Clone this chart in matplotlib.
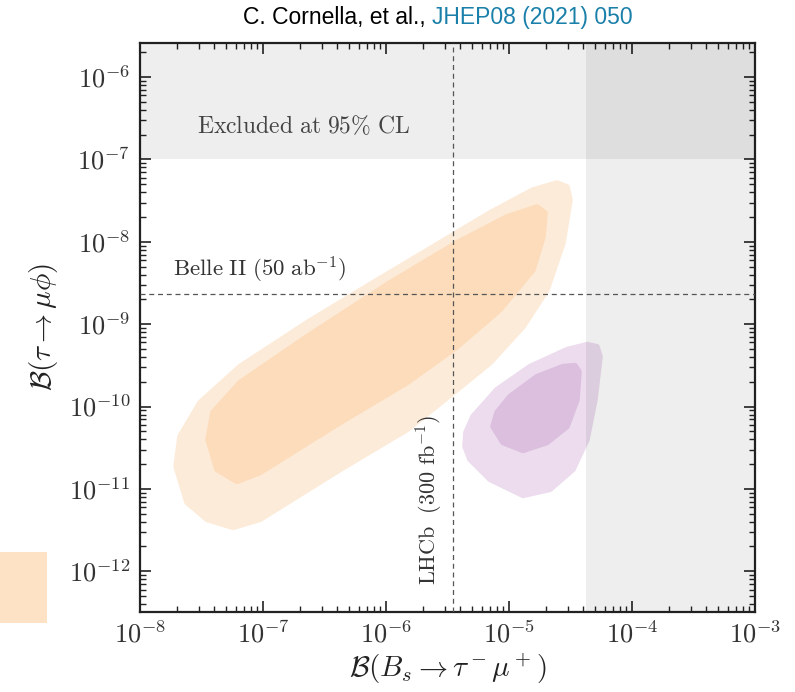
import numpy as np
import matplotlib
matplotlib.use('Agg')
import matplotlib.pyplot as plt
from matplotlib.patches import Polygon, Rectangle
from matplotlib.ticker import LogLocator, NullFormatter, FuncFormatter

plt.rcParams['mathtext.fontset'] = 'cm'

# 轮廓边界点 (log10 x, log10 y)
orange_outer_x = [-7.707, -7.618, -7.455, -7.244, -7.024, -6.374, -5.829, -5.423, -5.154, -4.886,
                  -4.691, -4.561, -4.504, -4.528, -4.610, -4.805, -5.154, -5.561, -6.106, -6.642,
                  -7.187, -7.512, -7.675]
orange_outer_y = [-10.727, -11.164, -11.370, -11.467, -11.370, -10.764, -10.279, -9.794, -9.467, -9.030,
                  -8.582, -8.012, -7.491, -7.333, -7.285, -7.370, -7.648, -8.012, -8.497, -8.982,
                  -9.515, -9.952, -10.364]
orange_inner_x = [-7.447, -7.374, -7.211, -7.024, -6.374, -5.829, -5.423, -5.073, -4.805, -4.724,
                  -4.707, -4.772, -5.016, -5.423, -5.967, -6.642, -7.187, -7.407]
orange_inner_y = [-10.400, -10.764, -10.909, -10.800, -10.194, -9.709, -9.273, -8.824, -8.339, -7.939,
                  -7.648, -7.576, -7.697, -8.012, -8.497, -9.152, -9.709, -10.073]
purple_outer_x = [-5.358, -5.317, -5.154, -4.886, -4.667, -4.480, -4.366, -4.301, -4.260, -4.285,
                  -4.366, -4.528, -4.829, -5.098, -5.293, -5.350]
purple_outer_y = [-10.485, -10.642, -10.885, -11.079, -11.006, -10.764, -10.400, -9.915, -9.394, -9.273,
                  -9.248, -9.309, -9.515, -9.794, -10.121, -10.315]
purple_inner_x = [-5.130, -5.049, -4.886, -4.691, -4.528, -4.447, -4.431, -4.463, -4.561, -4.772,
                  -4.992, -5.098]
purple_inner_y = [-10.242, -10.436, -10.533, -10.436, -10.242, -9.915, -9.576, -9.503, -9.515, -9.636,
                  -9.879, -10.073]

# 限制与未来灵敏度
excl_tau = 1e-7
excl_bs = 4.2e-5
belle2 = 2.3e-9
lhcb = 3.5e-6

fig = plt.figure(figsize=(7.95, 6.92), dpi=100)
ax = fig.add_axes([0.1761, 0.1156, 0.7736, 0.8223])
ax.set_xscale('log')
ax.set_yscale('log')
ax.set_xlim(1e-8, 1e-3)
ax.set_ylim(3.2e-13, 2.6e-6)

def add_shape(xs, ys, color):
    pts = np.column_stack([10.0 ** np.array(xs), 10.0 ** np.array(ys)])
    ax.add_patch(Polygon(pts, closed=True, facecolor=color, edgecolor=color,
                         lw=4, joinstyle='round', zorder=2))

add_shape(orange_outer_x, orange_outer_y, '#fdebd9')
add_shape(orange_inner_x, orange_inner_y, '#fcdcbb')
add_shape(purple_outer_x, purple_outer_y, '#ecdcee')
add_shape(purple_inner_x, purple_inner_y, '#dcbfdf')

# 排除区域
ax.axhspan(excl_tau, 1, color='black', alpha=0.065, lw=0, zorder=3)
ax.axvspan(excl_bs, 1, color='black', alpha=0.065, lw=0, zorder=3)

ax.axhline(belle2, color='#555555', lw=0.9, ls=(0, (4, 3)), zorder=4)
ax.axvline(lhcb, color='#555555', lw=0.9, ls=(0, (4, 3)), zorder=4)

ax.text(10 ** -7.537, 10 ** -6.594, r'$\mathrm{Excluded\ at\ 95\%\ CL}$',
        fontsize=17, color='#444444', va='center', ha='left', zorder=5)
ax.text(10 ** -7.73, belle2 * 1.3, r'$\mathrm{Belle\ II}\ (50\ \mathrm{ab}^{-1})$',
        fontsize=16.5, color='#333333', va='bottom', ha='left', zorder=5)
ax.text(10 ** -5.64, 10 ** -12.17, r'$\mathrm{LHCb}\ \ (300\ \mathrm{fb}^{-1})$',
        fontsize=16, color='#333333', va='bottom', ha='center', rotation=90, zorder=5)

ax.xaxis.set_major_locator(LogLocator(base=10, numticks=20))
ax.yaxis.set_major_locator(LogLocator(base=10, numticks=20))
ax.xaxis.set_minor_locator(LogLocator(base=10, subs=np.arange(2, 10), numticks=20))
ax.yaxis.set_minor_locator(LogLocator(base=10, subs=np.arange(2, 10), numticks=20))
pow_fmt = FuncFormatter(lambda v, pos: r'$10^{%d}$' % int(round(np.log10(v))))
ax.xaxis.set_major_formatter(pow_fmt)
ax.yaxis.set_major_formatter(pow_fmt)
ax.xaxis.set_minor_formatter(NullFormatter())
ax.yaxis.set_minor_formatter(NullFormatter())
ax.tick_params(which='both', direction='in', top=True, right=True, colors='#222222')
ax.tick_params(which='major', length=8, width=1.2, labelsize=19, pad=7, labelcolor='#333333')
ax.tick_params(which='minor', length=4, width=1.0)
for s in ax.spines.values():
    s.set_linewidth(1.6)
    s.set_color('#222222')

ax.set_xlabel(r'$\mathcal{B}(B_s\to\tau^-\mu^+)$', fontsize=21, labelpad=2, color='#222222')
ax.set_ylabel(r'$\mathcal{B}(\tau\to\mu\phi)$', fontsize=21, labelpad=6, color='#222222')

# 左下角的图例残片
fig.patches.append(Rectangle((0, 1 - 623 / 692), 47 / 795, 71 / 692, transform=fig.transFigure,
                             facecolor='#fde2c6', edgecolor='none'))

fig.text(0.543, 0.975, 'C. Cornella, et al., ', ha='right', va='center',
         fontsize=16.5, family='Liberation Sans', color='black')
fig.text(0.543, 0.975, 'JHEP08 (2021) 050', ha='left', va='center',
         fontsize=16.5, family='Liberation Sans', color='#1a80aa')

fig.savefig('out.png', dpi=100)
